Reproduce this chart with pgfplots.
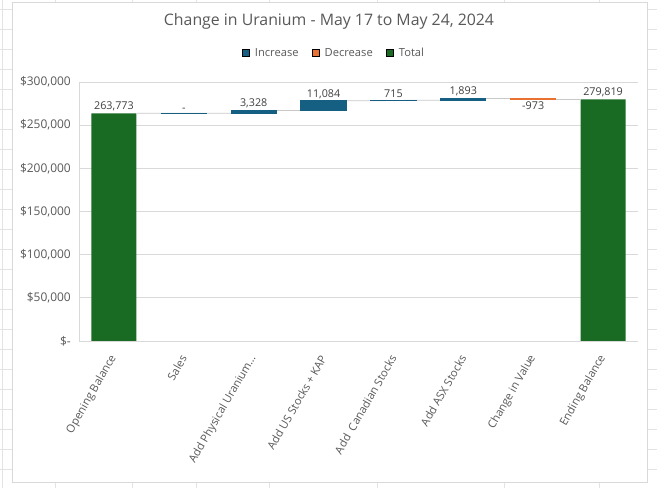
\documentclass[border=0pt]{standalone}
\usepackage{fontspec}
\setmainfont{Open Sans}
\usepackage{pgfplots}
\pgfplotsset{compat=1.18}

\definecolor{incblue}{HTML}{156082}
\definecolor{decorange}{HTML}{E97132}
\definecolor{totgreen}{HTML}{196B24}
\definecolor{gridgray}{HTML}{D9D9D9}
\definecolor{sheetgray}{HTML}{E3E3E3}
\definecolor{txtgray}{HTML}{595959}
\definecolor{lblgray}{HTML}{404040}
\definecolor{connector}{HTML}{C8C8C8}

\newcommand{\tickfont}{\fontsize{12}{14}\selectfont}
\newcommand{\smallfont}{\fontsize{11.2}{13}\selectfont}
\newcommand{\lblfont}{\fontsize{10.8}{13}\selectfont}

% shared geometry so the overlay axes line up with the main one
\pgfplotsset{
  wf/.style={
    at={(79bp,147bp)}, anchor=south west,
    scale only axis, width=559bp, height=259bp,
    xmin=-0.5, xmax=7.5, ymin=0, ymax=300000,
    clip=false,
  },
  wfbars/.style={wf, hide axis, ybar stacked, bar width=45bp},
}

\begin{document}
\begin{tikzpicture}[x=1bp,y=1bp]
\path[use as bounding box] (0,0) rectangle (657,488);
% spreadsheet behind the chart
\foreach \gx in {2,55,132,196,269,377,504,599}
  \draw[sheetgray, line width=0.75bp] (\gx,0) -- (\gx,488);
\foreach \gy in {479,459,...,19}
  \draw[sheetgray, line width=0.75bp] (0,\gy) -- (657,\gy);
% chart area
\draw[gridgray, fill=white, line width=0.75bp] (12,6) rectangle (647,486);
\node[font=\fontsize{15.9}{19}\selectfont, text=txtgray] at (329,466.5)
  {Change in Uranium - May 17 to May 24, 2024};

\begin{axis}[
  wf,
  axis x line*=bottom, axis y line*=left,
  axis line style={draw=gridgray, line width=0.75bp},
  ymajorgrids, grid style={draw=gridgray, line width=0.75bp},
  major tick length=0pt,
  ytick={0,50000,100000,150000,200000,250000,300000},
  yticklabels={{\$-},{\$50,000},{\$100,000},{\$150,000},{\$200,000},{\$250,000},{\$300,000}},
  scaled y ticks=false,
  yticklabel style={font=\tickfont, text=txtgray, anchor=east, inner sep=0pt, xshift=-8bp},
  xtick={0,1,2,3,4,5,6,7},
  xticklabels={Opening Balance, Sales, Add Physical Uranium…, Add US Stocks + KAP,
    Add\ \ Canadian Stocks, Add ASX Stocks, Change in Value, Ending Balance},
  xticklabel style={font=\smallfont, text=txtgray, rotate=60, anchor=east, inner sep=0pt},
  xticklabel shift=15bp,
  legend columns=3,
  legend style={at={(0.456,1.112)}, anchor=center, draw=none, fill=none,
    font=\smallfont, text=txtgray, inner sep=0pt,
    /tikz/every odd column/.append style={column sep=3.5bp},
    /tikz/every even column/.append style={column sep=11bp}},
  legend image code/.code={\fill[#1] (0bp,-3.6bp) rectangle (7.2bp,3.6bp);},
]
\addlegendimage{fill=incblue}
\addlegendentry{Increase}
\addlegendimage{fill=decorange}
\addlegendentry{Decrease}
\addlegendimage{fill=totgreen}
\addlegendentry{Total}

% connector lines (running total), drawn below the bars
\addplot[sharp plot, draw=connector, line width=0.75bp, mark=none]
  coordinates {(0.33,263773) (0.67,263773) (1.33,263773) (1.67,263773)
    (2.33,267101) (2.67,267101) (3.33,278185) (3.67,278185)
    (4.33,278900) (4.67,278900) (5.33,280793) (5.67,280793)
    (6.33,279820) (6.67,279820)};

% Sales: zero change, shown as a flat step
\addplot[sharp plot, draw=incblue, line width=1.2bp, mark=none]
  coordinates {(0.668,263773) (1.332,263773)};

% totals
\addplot[ybar, bar width=45bp, bar shift=0pt, fill=totgreen, draw=none]
  coordinates {(0,263773) (7,279819)};

% data labels
\addplot[sharp plot, draw=none, mark=none,
  nodes near coords, point meta=explicit symbolic,
  every node near coord/.style={anchor=south, font=\lblfont, text=lblgray, inner sep=2bp}]
  table[meta=lab] {
x y lab
0 263773 263,773
1 263773 -
2 267101 3,328
3 278185 11,084
4 278900 715
5 280793 1,893
7 279819 279,819
};
\addplot[sharp plot, draw=none, mark=none,
  nodes near coords, point meta=explicit symbolic,
  every node near coord/.style={anchor=north, font=\lblfont, text=lblgray, inner sep=2.5bp}]
  table[meta=lab] {
x y lab
6 279820 -973
};
\end{axis}

% increases: invisible base + visible step
\begin{axis}[wfbars]
\addplot[draw=none, fill=none]
  coordinates {(1,263773) (2,263773) (3,267101) (4,278185) (5,278900)};
\addplot[fill=incblue, draw=incblue, line width=1.2bp]
  coordinates {(1,0) (2,3328) (3,11084) (4,715) (5,1893)};
\end{axis}

% decreases: invisible base + visible step
\begin{axis}[wfbars]
\addplot[draw=none, fill=none]
  coordinates {(6,279820)};
\addplot[fill=decorange, draw=decorange, line width=1.2bp]
  coordinates {(6,973)};
\end{axis}
\end{tikzpicture}
\end{document}
